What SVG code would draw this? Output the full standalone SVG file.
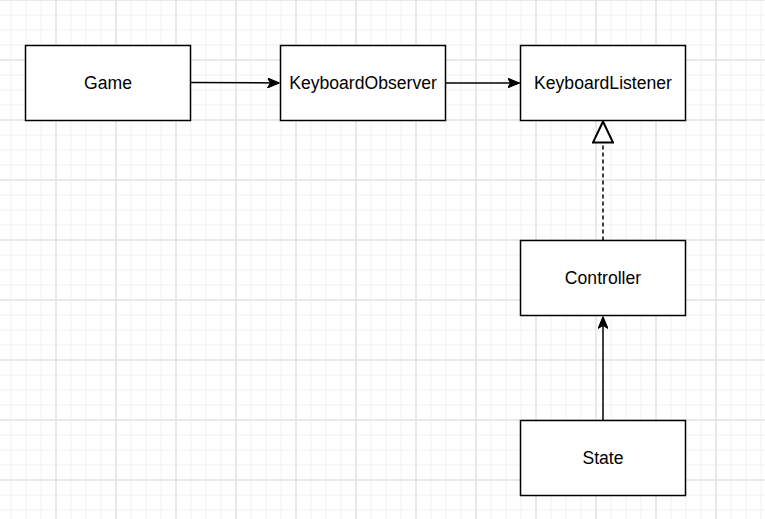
<svg xmlns="http://www.w3.org/2000/svg" width="765" height="519" viewBox="0 0 765 519">
<defs>
<pattern id="minor" x="10.5" y="14.5" width="15" height="15" patternUnits="userSpaceOnUse">
<path d="M0 0 H15 M0 0 V15" fill="none" stroke="#f0f0f0" stroke-width="1" transform="translate(0.5,0.5)"/>
</pattern>
<pattern id="major" x="-4.5" y="-0.5" width="60" height="60" patternUnits="userSpaceOnUse">
<path d="M0 0 H60 M0 0 V60" fill="none" stroke="#dadada" stroke-width="1" transform="translate(0.5,0.5)"/>
</pattern>
<marker id="classic" viewBox="0 0 12 10" refX="12" refY="5" markerWidth="12" markerHeight="10" markerUnits="userSpaceOnUse" orient="auto">
<path d="M12 5 L0 0 L3 5 L0 10 Z" fill="#000" stroke="#000" stroke-width="1"/>
</marker>
<marker id="tri" viewBox="0 0 23 22" refX="22" refY="11" markerWidth="23" markerHeight="22" markerUnits="userSpaceOnUse" orient="auto">
<path d="M22 11 L1 1 L1 21 Z" fill="#fff" stroke="#000" stroke-width="2"/>
</marker>
</defs>
<style>
.box{fill:#fff;stroke:#000;stroke-width:1.5}
.lbl{font-family:"Liberation Sans",Arial,sans-serif;font-size:17.6px;fill:#000;text-anchor:middle}
.edge{fill:none;stroke:#000;stroke-width:1.5}
</style>
<rect width="765" height="519" fill="#fff"/>
<rect width="765" height="519" fill="url(#minor)"/>
<rect width="765" height="519" fill="url(#major)"/>
<g id="connectors">
<path class="edge" d="M190.5 82.5 L279.5 83" marker-end="url(#classic)"/>
<path class="edge" d="M445.5 83 L519.5 83" marker-end="url(#classic)"/>
<path class="edge" d="M603 240.5 L603 121.5" stroke-dasharray="4 3" marker-end="url(#tri)"/>
<path class="edge" d="M603 420.5 L603 316.5" marker-end="url(#classic)"/>
</g>
<g id="game"><rect class="box" x="25.5" y="45.5" width="165" height="75"/><text class="lbl" x="108" y="89">Game</text></g>
<g id="keyboardObserver"><rect class="box" x="280.5" y="45.5" width="165" height="75"/><text class="lbl" x="363" y="89">KeyboardObserver</text></g>
<g id="keyboardListener"><rect class="box" x="520.5" y="45.5" width="165" height="75"/><text class="lbl" x="603" y="89">KeyboardListener</text></g>
<g id="controller"><rect class="box" x="520.5" y="240.5" width="165" height="75"/><text class="lbl" x="603" y="284">Controller</text></g>
<g id="state"><rect class="box" x="520.5" y="420.5" width="165" height="75"/><text class="lbl" x="603" y="464">State</text></g>
</svg>
